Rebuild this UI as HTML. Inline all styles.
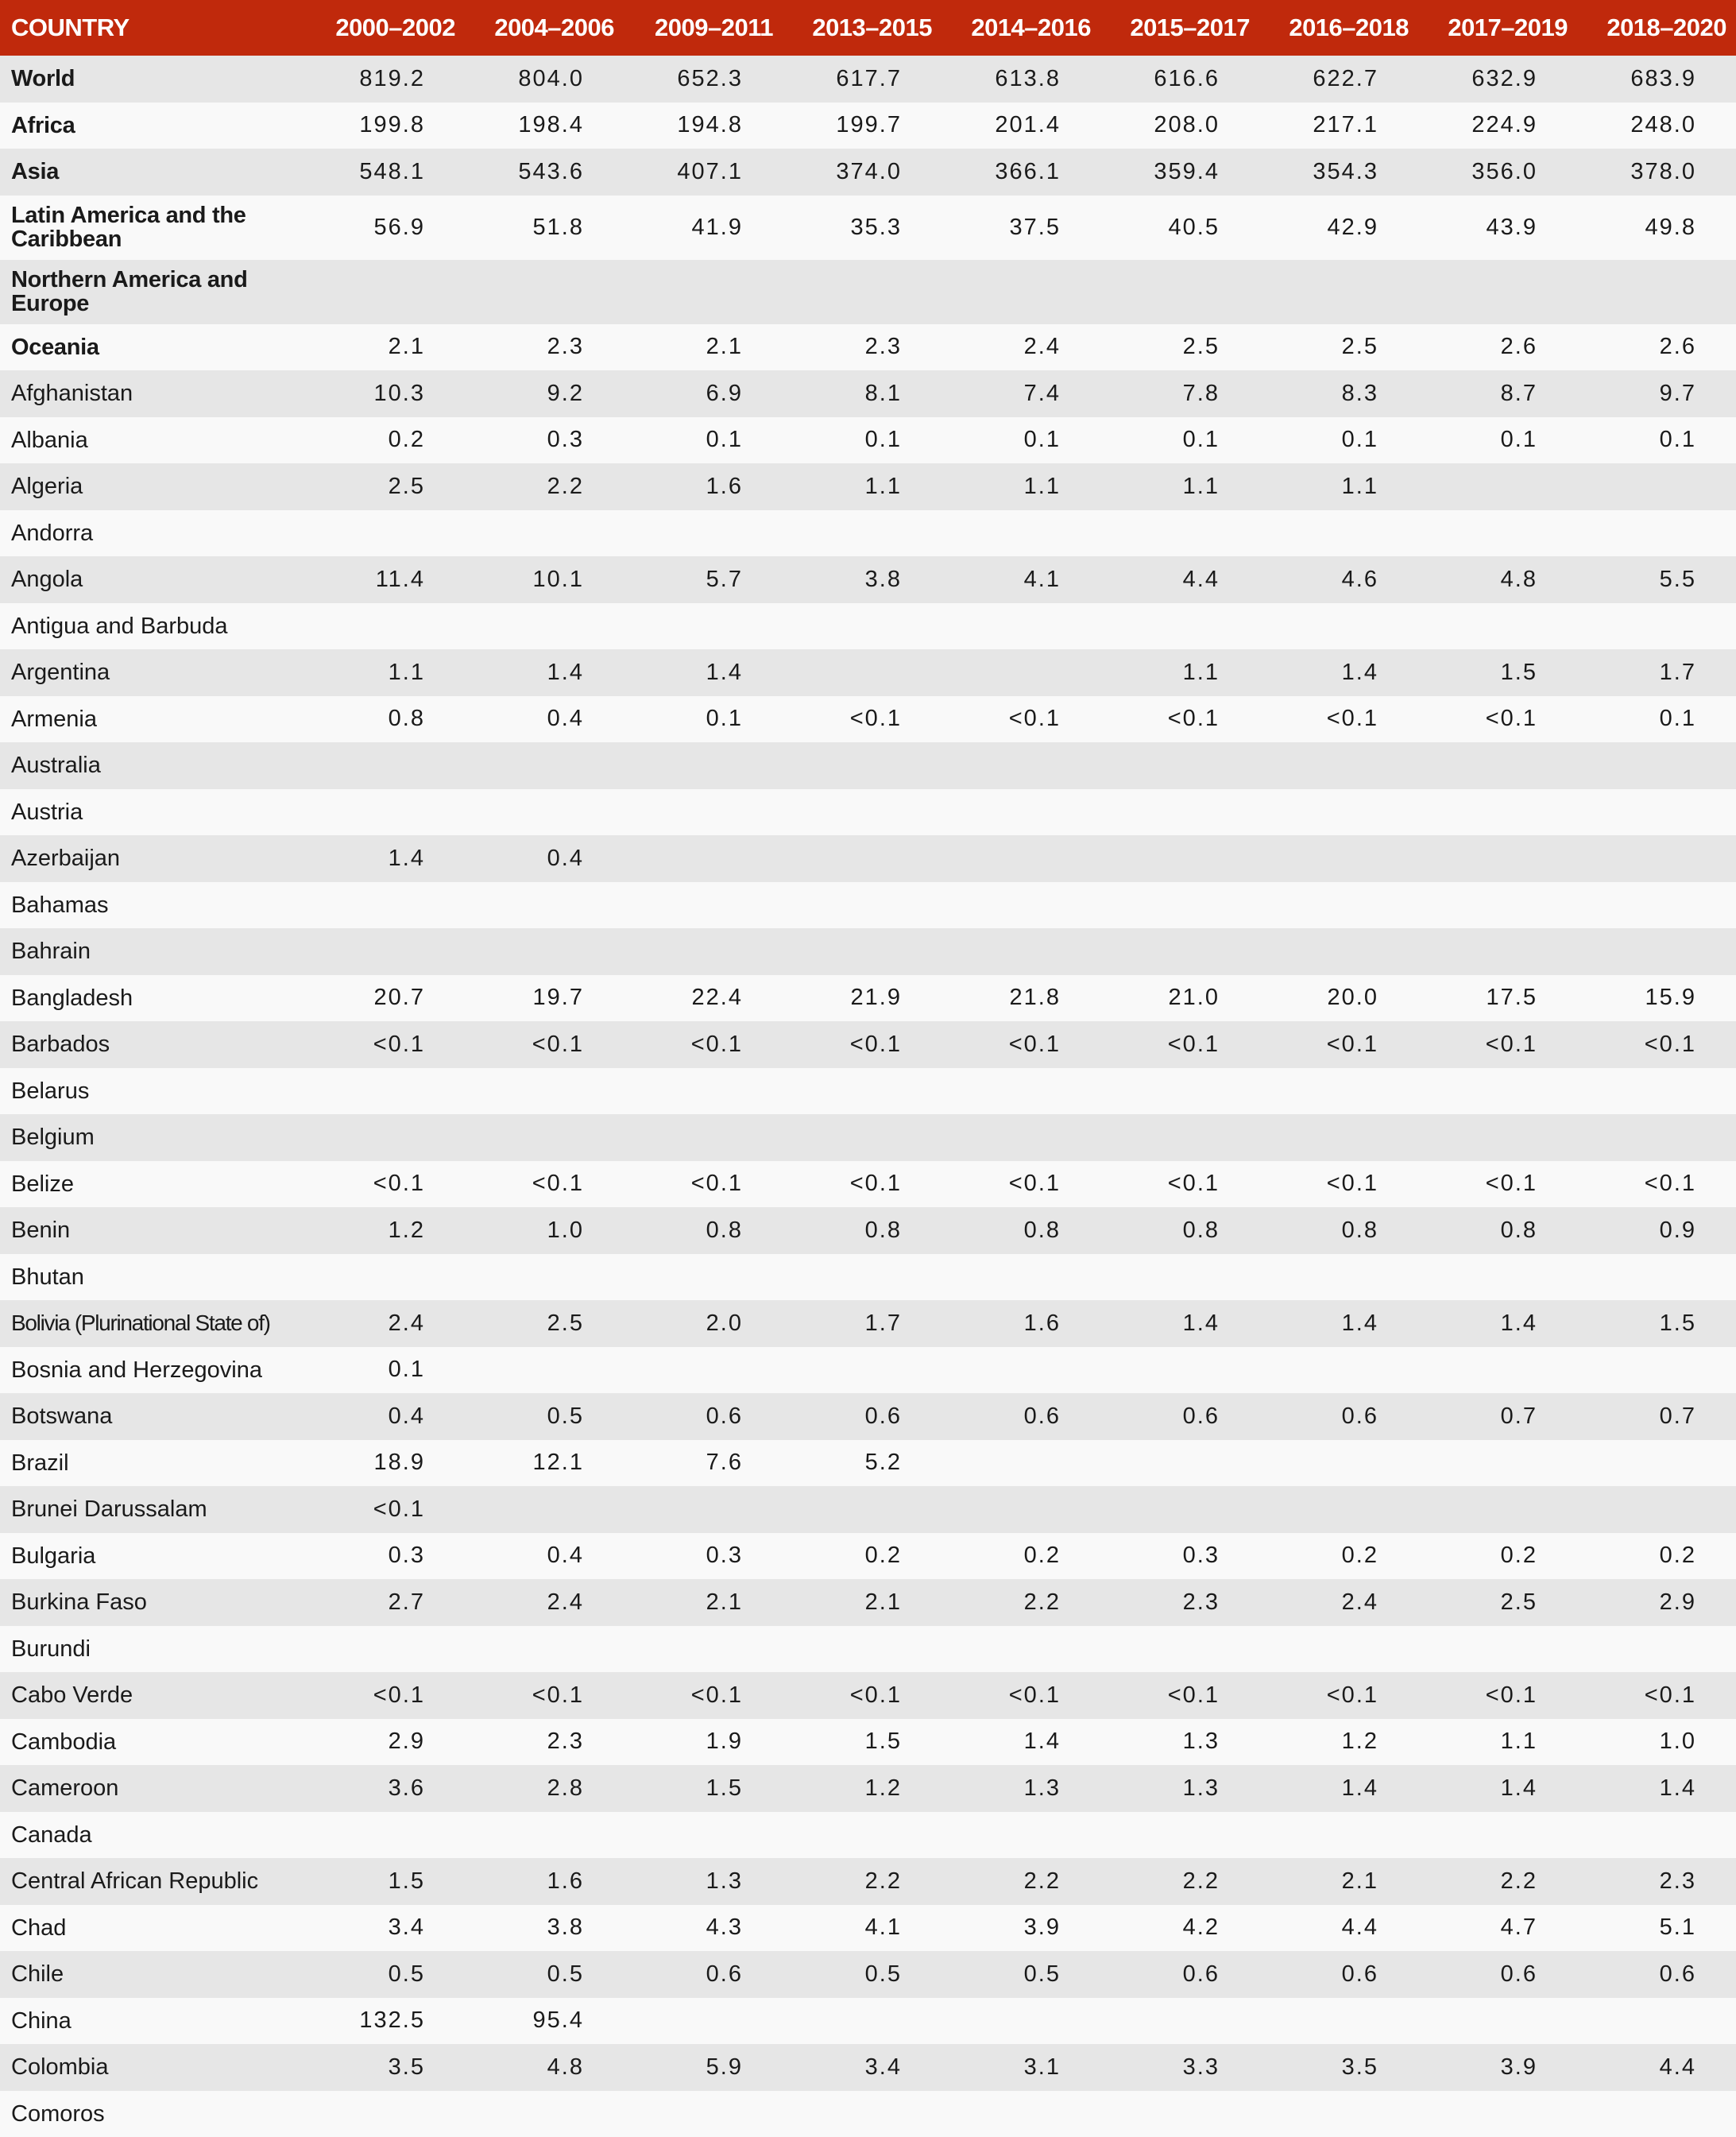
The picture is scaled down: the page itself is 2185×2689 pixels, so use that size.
<!DOCTYPE html>
<html><head><meta charset="utf-8"><style>
html,body{margin:0;padding:0;background:#f9f9f9;}
body{width:2185px;height:2688px;overflow:hidden;}
table{border-collapse:collapse;table-layout:fixed;width:2185px;font-family:"Liberation Sans",sans-serif;color:#1a1a1a;}
col.c0{width:385px}
col.cv{width:200px}
th{background:#c0290c;color:#fff;height:70px;padding:0 12px 0 0;font-size:31px;font-weight:bold;text-align:right;letter-spacing:-0.5px;white-space:nowrap}
th:first-child{text-align:left;padding-left:14px}
td{height:58.5px;padding:0 50px 0 0;font-size:29px;text-align:right;letter-spacing:2px;white-space:nowrap}
td:first-child{text-align:left;padding-left:14px;letter-spacing:0;white-space:normal;line-height:30px}
tr:nth-child(odd) td{background:#e6e6e6}
tr:nth-child(even) td{background:#f9f9f9}
tr.b td:first-child{font-weight:bold;letter-spacing:-0.3px}
tr.d td{height:81px}
td.nw{white-space:nowrap !important;letter-spacing:-1.3px !important;font-size:28px}
</style></head><body>
<table>
<colgroup><col class="c0"><col class="cv"><col class="cv"><col class="cv"><col class="cv"><col class="cv"><col class="cv"><col class="cv"><col class="cv"><col class="cv"></colgroup>
<thead><tr><th>COUNTRY</th><th>2000–2002</th><th>2004–2006</th><th>2009–2011</th><th>2013–2015</th><th>2014–2016</th><th>2015–2017</th><th>2016–2018</th><th>2017–2019</th><th>2018–2020</th></tr></thead>
<tbody>
<tr class="b"><td>World</td><td>819.2</td><td>804.0</td><td>652.3</td><td>617.7</td><td>613.8</td><td>616.6</td><td>622.7</td><td>632.9</td><td>683.9</td></tr>
<tr class="b"><td>Africa</td><td>199.8</td><td>198.4</td><td>194.8</td><td>199.7</td><td>201.4</td><td>208.0</td><td>217.1</td><td>224.9</td><td>248.0</td></tr>
<tr class="b"><td>Asia</td><td>548.1</td><td>543.6</td><td>407.1</td><td>374.0</td><td>366.1</td><td>359.4</td><td>354.3</td><td>356.0</td><td>378.0</td></tr>
<tr class="b d"><td>Latin America and the Caribbean</td><td>56.9</td><td>51.8</td><td>41.9</td><td>35.3</td><td>37.5</td><td>40.5</td><td>42.9</td><td>43.9</td><td>49.8</td></tr>
<tr class="b d"><td>Northern America and Europe</td><td></td><td></td><td></td><td></td><td></td><td></td><td></td><td></td><td></td></tr>
<tr class="b"><td>Oceania</td><td>2.1</td><td>2.3</td><td>2.1</td><td>2.3</td><td>2.4</td><td>2.5</td><td>2.5</td><td>2.6</td><td>2.6</td></tr>
<tr><td>Afghanistan</td><td>10.3</td><td>9.2</td><td>6.9</td><td>8.1</td><td>7.4</td><td>7.8</td><td>8.3</td><td>8.7</td><td>9.7</td></tr>
<tr><td>Albania</td><td>0.2</td><td>0.3</td><td>0.1</td><td>0.1</td><td>0.1</td><td>0.1</td><td>0.1</td><td>0.1</td><td>0.1</td></tr>
<tr><td>Algeria</td><td>2.5</td><td>2.2</td><td>1.6</td><td>1.1</td><td>1.1</td><td>1.1</td><td>1.1</td><td></td><td></td></tr>
<tr><td>Andorra</td><td></td><td></td><td></td><td></td><td></td><td></td><td></td><td></td><td></td></tr>
<tr><td>Angola</td><td>11.4</td><td>10.1</td><td>5.7</td><td>3.8</td><td>4.1</td><td>4.4</td><td>4.6</td><td>4.8</td><td>5.5</td></tr>
<tr><td>Antigua and Barbuda</td><td></td><td></td><td></td><td></td><td></td><td></td><td></td><td></td><td></td></tr>
<tr><td>Argentina</td><td>1.1</td><td>1.4</td><td>1.4</td><td></td><td></td><td>1.1</td><td>1.4</td><td>1.5</td><td>1.7</td></tr>
<tr><td>Armenia</td><td>0.8</td><td>0.4</td><td>0.1</td><td>&lt;0.1</td><td>&lt;0.1</td><td>&lt;0.1</td><td>&lt;0.1</td><td>&lt;0.1</td><td>0.1</td></tr>
<tr><td>Australia</td><td></td><td></td><td></td><td></td><td></td><td></td><td></td><td></td><td></td></tr>
<tr><td>Austria</td><td></td><td></td><td></td><td></td><td></td><td></td><td></td><td></td><td></td></tr>
<tr><td>Azerbaijan</td><td>1.4</td><td>0.4</td><td></td><td></td><td></td><td></td><td></td><td></td><td></td></tr>
<tr><td>Bahamas</td><td></td><td></td><td></td><td></td><td></td><td></td><td></td><td></td><td></td></tr>
<tr><td>Bahrain</td><td></td><td></td><td></td><td></td><td></td><td></td><td></td><td></td><td></td></tr>
<tr><td>Bangladesh</td><td>20.7</td><td>19.7</td><td>22.4</td><td>21.9</td><td>21.8</td><td>21.0</td><td>20.0</td><td>17.5</td><td>15.9</td></tr>
<tr><td>Barbados</td><td>&lt;0.1</td><td>&lt;0.1</td><td>&lt;0.1</td><td>&lt;0.1</td><td>&lt;0.1</td><td>&lt;0.1</td><td>&lt;0.1</td><td>&lt;0.1</td><td>&lt;0.1</td></tr>
<tr><td>Belarus</td><td></td><td></td><td></td><td></td><td></td><td></td><td></td><td></td><td></td></tr>
<tr><td>Belgium</td><td></td><td></td><td></td><td></td><td></td><td></td><td></td><td></td><td></td></tr>
<tr><td>Belize</td><td>&lt;0.1</td><td>&lt;0.1</td><td>&lt;0.1</td><td>&lt;0.1</td><td>&lt;0.1</td><td>&lt;0.1</td><td>&lt;0.1</td><td>&lt;0.1</td><td>&lt;0.1</td></tr>
<tr><td>Benin</td><td>1.2</td><td>1.0</td><td>0.8</td><td>0.8</td><td>0.8</td><td>0.8</td><td>0.8</td><td>0.8</td><td>0.9</td></tr>
<tr><td>Bhutan</td><td></td><td></td><td></td><td></td><td></td><td></td><td></td><td></td><td></td></tr>
<tr><td class="nw">Bolivia (Plurinational State of)</td><td>2.4</td><td>2.5</td><td>2.0</td><td>1.7</td><td>1.6</td><td>1.4</td><td>1.4</td><td>1.4</td><td>1.5</td></tr>
<tr><td>Bosnia and Herzegovina</td><td>0.1</td><td></td><td></td><td></td><td></td><td></td><td></td><td></td><td></td></tr>
<tr><td>Botswana</td><td>0.4</td><td>0.5</td><td>0.6</td><td>0.6</td><td>0.6</td><td>0.6</td><td>0.6</td><td>0.7</td><td>0.7</td></tr>
<tr><td>Brazil</td><td>18.9</td><td>12.1</td><td>7.6</td><td>5.2</td><td></td><td></td><td></td><td></td><td></td></tr>
<tr><td>Brunei Darussalam</td><td>&lt;0.1</td><td></td><td></td><td></td><td></td><td></td><td></td><td></td><td></td></tr>
<tr><td>Bulgaria</td><td>0.3</td><td>0.4</td><td>0.3</td><td>0.2</td><td>0.2</td><td>0.3</td><td>0.2</td><td>0.2</td><td>0.2</td></tr>
<tr><td>Burkina Faso</td><td>2.7</td><td>2.4</td><td>2.1</td><td>2.1</td><td>2.2</td><td>2.3</td><td>2.4</td><td>2.5</td><td>2.9</td></tr>
<tr><td>Burundi</td><td></td><td></td><td></td><td></td><td></td><td></td><td></td><td></td><td></td></tr>
<tr><td>Cabo Verde</td><td>&lt;0.1</td><td>&lt;0.1</td><td>&lt;0.1</td><td>&lt;0.1</td><td>&lt;0.1</td><td>&lt;0.1</td><td>&lt;0.1</td><td>&lt;0.1</td><td>&lt;0.1</td></tr>
<tr><td>Cambodia</td><td>2.9</td><td>2.3</td><td>1.9</td><td>1.5</td><td>1.4</td><td>1.3</td><td>1.2</td><td>1.1</td><td>1.0</td></tr>
<tr><td>Cameroon</td><td>3.6</td><td>2.8</td><td>1.5</td><td>1.2</td><td>1.3</td><td>1.3</td><td>1.4</td><td>1.4</td><td>1.4</td></tr>
<tr><td>Canada</td><td></td><td></td><td></td><td></td><td></td><td></td><td></td><td></td><td></td></tr>
<tr><td>Central African Republic</td><td>1.5</td><td>1.6</td><td>1.3</td><td>2.2</td><td>2.2</td><td>2.2</td><td>2.1</td><td>2.2</td><td>2.3</td></tr>
<tr><td>Chad</td><td>3.4</td><td>3.8</td><td>4.3</td><td>4.1</td><td>3.9</td><td>4.2</td><td>4.4</td><td>4.7</td><td>5.1</td></tr>
<tr><td>Chile</td><td>0.5</td><td>0.5</td><td>0.6</td><td>0.5</td><td>0.5</td><td>0.6</td><td>0.6</td><td>0.6</td><td>0.6</td></tr>
<tr><td>China</td><td>132.5</td><td>95.4</td><td></td><td></td><td></td><td></td><td></td><td></td><td></td></tr>
<tr><td>Colombia</td><td>3.5</td><td>4.8</td><td>5.9</td><td>3.4</td><td>3.1</td><td>3.3</td><td>3.5</td><td>3.9</td><td>4.4</td></tr>
<tr><td>Comoros</td><td></td><td></td><td></td><td></td><td></td><td></td><td></td><td></td><td></td></tr>
</tbody></table>
</body></html>
